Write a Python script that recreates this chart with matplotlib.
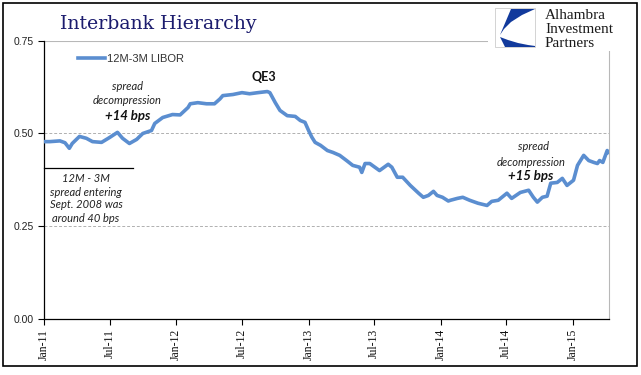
import matplotlib
matplotlib.use("Agg")
import matplotlib.pyplot as plt
import matplotlib.dates as mdates
import numpy as np
import pandas as pd
from matplotlib.patches import Rectangle, Polygon

# ---------------- data ----------------
dates = ["2011-01-01", "2011-01-17", "2011-02-14", "2011-02-28", "2011-03-12", "2011-03-20",
         "2011-04-09", "2011-04-28", "2011-05-15", "2011-06-09", "2011-07-01", "2011-07-23",
         "2011-08-06", "2011-08-25", "2011-09-14", "2011-10-01", "2011-10-25", "2011-11-03",
         "2011-11-25", "2011-12-22", "2012-01-12", "2012-02-03", "2012-02-09", "2012-03-01",
         "2012-03-25", "2012-04-16", "2012-05-01", "2012-05-09", "2012-06-06", "2012-07-01",
         "2012-07-22", "2012-08-14", "2012-09-09", "2012-09-16", "2012-10-01", "2012-10-14",
         "2012-11-03", "2012-11-25", "2012-12-09", "2012-12-22", "2013-01-01", "2013-01-10",
         "2013-01-19", "2013-02-03", "2013-02-22", "2013-03-09", "2013-03-28", "2013-04-16",
         "2013-05-03", "2013-05-22", "2013-05-28", "2013-06-06", "2013-06-19", "2013-07-16",
         "2013-08-09", "2013-08-19", "2013-09-03", "2013-09-18", "2013-10-09", "2013-11-01",
         "2013-11-14", "2013-11-28", "2013-12-12", "2013-12-22", "2014-01-06", "2014-01-22",
         "2014-01-28", "2014-02-16", "2014-03-03", "2014-03-22", "2014-04-14", "2014-05-09",
         "2014-05-22", "2014-06-09", "2014-07-03", "2014-07-16", "2014-08-09", "2014-09-01",
         "2014-09-14", "2014-09-25", "2014-10-09", "2014-10-22", "2014-11-01", "2014-11-19",
         "2014-12-03", "2014-12-16", "2015-01-03", "2015-01-14", "2015-01-31", "2015-02-14",
         "2015-02-28", "2015-03-10", "2015-03-16", "2015-03-25", "2015-04-06", "2015-04-09"]
spread = [0.478, 0.478, 0.480, 0.475, 0.460, 0.473,
          0.492, 0.487, 0.478, 0.476, 0.489, 0.503,
          0.487, 0.473, 0.484, 0.500, 0.508, 0.527,
          0.543, 0.551, 0.550, 0.570, 0.580, 0.583,
          0.580, 0.580, 0.593, 0.602, 0.605, 0.610,
          0.607, 0.610, 0.613, 0.610, 0.583, 0.562,
          0.548, 0.546, 0.535, 0.530, 0.508, 0.490,
          0.476, 0.468, 0.454, 0.449, 0.441, 0.427,
          0.414, 0.409, 0.395, 0.419, 0.419, 0.400,
          0.417, 0.409, 0.382, 0.382, 0.360, 0.339,
          0.328, 0.333, 0.344, 0.333, 0.328, 0.318,
          0.320, 0.325, 0.328, 0.320, 0.312, 0.306,
          0.317, 0.320, 0.339, 0.325, 0.341, 0.347,
          0.328, 0.315, 0.328, 0.331, 0.366, 0.368,
          0.379, 0.360, 0.374, 0.414, 0.441, 0.427,
          0.422, 0.419, 0.427, 0.422, 0.454, 0.449]
series_label = "12M-3M LIBOR"
yticks = [0.00, 0.25, 0.50, 0.75]
xtick_dates = ["2011-01-01", "2011-07-01", "2012-01-01", "2012-07-01", "2013-01-01",
               "2013-07-01", "2014-01-01", "2014-07-01", "2015-01-01"]
xtick_labels = ["Jan-11", "Jul-11", "Jan-12", "Jul-12", "Jan-13",
                "Jul-13", "Jan-14", "Jul-14", "Jan-15"]

# ---------------- figure ----------------
W, H = 641, 375
fig = plt.figure(figsize=(W / 100, H / 100), dpi=100)
fig.patch.set_facecolor("white")

def fx(px):
    return px / W

def fy(py):
    return 1 - py / H

ax = fig.add_axes([fx(44), fy(319), fx(609) - fx(44), fy(40.7) - fy(319)])
x = pd.to_datetime(dates)
line_color = "#5B8ED0"
ax.plot(x, spread, color=line_color, lw=2.6, solid_joinstyle="round", label=series_label, zorder=3)

ax.set_ylim(0, 0.75)
ax.set_xlim(pd.Timestamp("2011-01-01"), pd.Timestamp("2015-04-11"))
ax.set_yticks(yticks)
ax.set_yticklabels([f"{v:.2f}" for v in yticks], fontsize=7.5, family="Liberation Sans", color="#222222")
ax.set_xticks(pd.to_datetime(xtick_dates))
ax.set_xticklabels(xtick_labels, rotation=90, fontsize=8.5, family="Liberation Serif", color="#111111")
ax.tick_params(axis="both", direction="out", length=4, width=0.8, color="black")
ax.tick_params(axis="x", pad=3)

for v in [0.25, 0.50]:
    ax.axhline(v, color="#b0b0b0", lw=0.7, ls=(0, (3, 2)), zorder=1)
ax.axhline(0.75, color="#b8b8b8", lw=0.8, zorder=1)

ax.spines["top"].set_visible(False)
ax.spines["right"].set_color("#b8b8b8")
ax.spines["left"].set_color("black")
ax.spines["bottom"].set_color("black")
ax.spines["left"].set_linewidth(0.9)
ax.spines["bottom"].set_linewidth(0.9)

axw = fx(609) - fx(44)
leg = ax.legend(loc="upper left", bbox_to_anchor=((fx(74) - fx(44)) / axw, 0.968),
                frameon=False, prop={"family": "Liberation Sans", "size": 8},
                handlelength=2.4, handletextpad=0.2, borderaxespad=0)
for t in leg.get_texts():
    t.set_color("#333333")

# ---------------- overlay (pixel coordinates) ----------------
ov = fig.add_axes([0, 0, 1, 1], zorder=5)
ov.set_xlim(0, W)
ov.set_ylim(H, 0)
ov.axis("off")
ov.patch.set_alpha(0)

# outer border
ov.add_patch(Rectangle((3, 3), 634, 363, fill=False, ec="black", lw=1.2))

# title
ov.text(60, 29, "Interbank Hierarchy", family="DejaVu Serif", fontsize=13.6,
        color="#1c1c6e", ha="left", va="baseline")

# logo
ov.add_patch(Rectangle((488, 5), 140, 46, fc="white", ec="none"))
ov.add_patch(Rectangle((495, 8), 40, 39, fc="white", ec="#cccccc", lw=0.6))
ov.add_patch(Polygon([(511, 9), (535, 9), (522, 15), (511, 22), (504, 29), (500, 35)],
                     closed=True, fc="#123a9c", ec="none"))
ov.add_patch(Polygon([(500, 37), (508, 40), (518, 43), (528, 45), (535, 46), (535, 47), (505, 47)],
                     closed=True, fc="#123a9c", ec="none"))
for i, word in enumerate(["Alhambra", "Investment", "Partners"]):
    ov.text(545, 19 + 14 * i, word, family="Liberation Serif", fontsize=11,
            color="#1a1a1a", ha="left", va="baseline")

# annotations
it = dict(family="Lato", style="italic", fontsize=8, color="#222222", ha="center", va="center")
bi = dict(family="Lato", style="italic", weight="bold", fontsize=9.5, color="#111111", ha="center", va="center")
ov.text(127, 87, "spread", **it)
ov.text(127, 101, "decompression", **it)
ov.text(128, 116, "+14 bps", **bi)

ov.text(264, 77, "QE3", family="Lato", weight="bold", fontsize=9, color="#111111", ha="center", va="center")

ov.plot([44, 133], [168, 168], color="black", lw=0.9)
for i, s in enumerate(["12M - 3M", "spread entering", "Sept. 2008 was", "around 40 bps"]):
    ov.text(86, 179 + 13 * i, s, **it)

ov.text(534, 147, "spread", **it)
ov.text(531, 162, "decompression", **it)
ov.text(531, 176, "+15 bps", **bi)

fig.savefig("out.png", dpi=100, facecolor="white")
